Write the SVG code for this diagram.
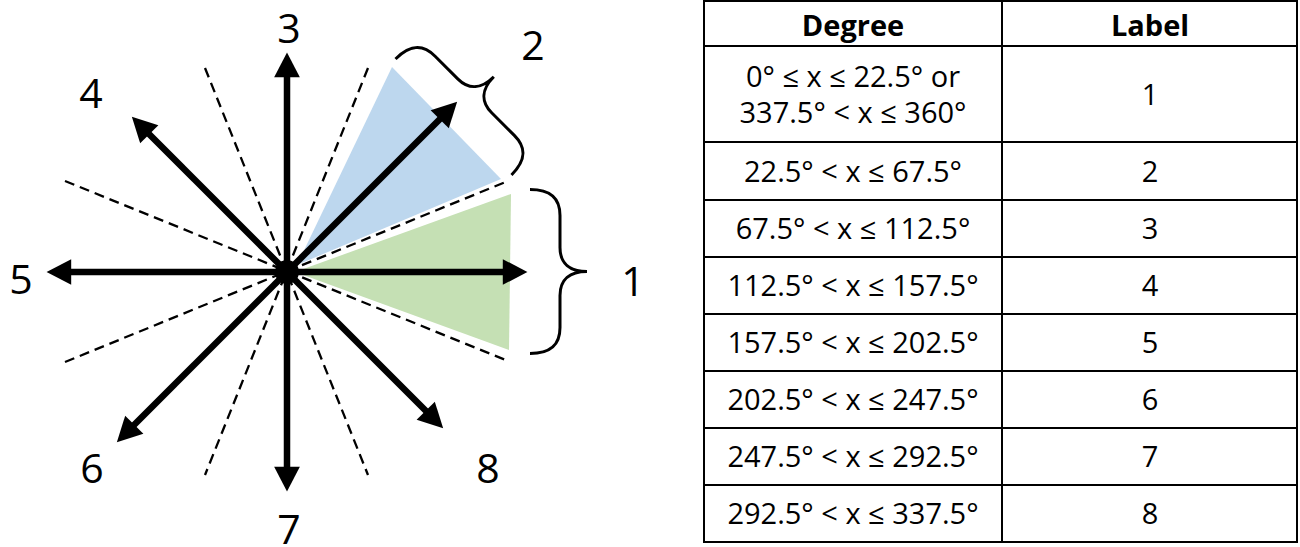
<svg xmlns="http://www.w3.org/2000/svg" width="1300" height="547" viewBox="0 0 1300 547">
<style>
.lbl{font-family:"Open Sans","Liberation Sans",sans-serif;font-size:41px;fill:#000;text-anchor:middle}
.cell{font-family:"Open Sans","Liberation Sans",sans-serif;font-size:29px;fill:#000;text-anchor:middle}
.hdr{font-family:"Open Sans","Liberation Sans",sans-serif;font-size:29px;font-weight:bold;fill:#000;text-anchor:middle}
.arrow{stroke:#000;stroke-width:6.5;fill:none;marker-end:url(#ah)}
.dash{stroke:#000;stroke-width:2.3;stroke-dasharray:10 6;fill:none}
.brace{stroke:#000;stroke-width:3;fill:none}
.grid{stroke:#000;stroke-width:2;fill:none}
</style>
<defs>
<marker id="ah" markerUnits="userSpaceOnUse" markerWidth="30" markerHeight="30" viewBox="-4 -13 28 26" refX="0" refY="0" orient="auto">
<path d="M-3,-12 L20,0 L-3,12 Z" fill="#000"/>
</marker>
<path id="bracePath" d="M0,-82 C20,-82 30,-74 30,-56 L30,-24 C30,-8 40,0 57,0 C40,0 30,8 30,24 L30,56 C30,74 20,82 0,82"/>
</defs>
<rect width="1300" height="547" fill="#fff"/>

<g id="sectors">
<polygon points="297,265 392,67 501,179" fill="#BDD7EE"/>
<polygon points="295,272 511,194 509,350" fill="#C5E0B4"/>
</g>

<g id="connectors">
<line class="dash" x1="205" y1="68" x2="368" y2="475"/>
<line class="dash" x1="368" y1="68" x2="205" y2="475"/>
<line class="dash" x1="65" y1="181" x2="508" y2="361"/>
<line class="dash" x1="65" y1="362" x2="508" y2="181"/>
<line class="arrow" x1="287" y1="272" x2="506" y2="272"/>
<line class="arrow" x1="287" y1="272" x2="68" y2="272"/>
<line class="arrow" x1="287" y1="272" x2="287" y2="74"/>
<line class="arrow" x1="287" y1="272" x2="287" y2="470"/>
<line class="arrow" x1="287" y1="272" x2="147" y2="132"/>
<line class="arrow" x1="287" y1="272" x2="442" y2="117"/>
<line class="arrow" x1="287" y1="272" x2="132" y2="427"/>
<line class="arrow" x1="287" y1="272" x2="428" y2="413"/>
<circle cx="287" cy="272" r="12" fill="#000"/>
</g>

<g id="brace1"><use href="#bracePath" class="brace" transform="translate(530,271.5)"/></g>
<g id="brace2"><use href="#bracePath" class="brace" transform="translate(453.5,117) rotate(-45)"/></g>

<g id="labels">
<text class="lbl" x="633" y="296">1</text>
<text class="lbl" x="533" y="60">2</text>
<text class="lbl" x="289" y="43">3</text>
<text class="lbl" x="91" y="108">4</text>
<text class="lbl" x="21" y="294">5</text>
<text class="lbl" x="92" y="483">6</text>
<text class="lbl" x="289" y="544">7</text>
<text class="lbl" x="488" y="483">8</text>
</g>

<g id="table">
<rect class="grid" x="704" y="1" width="593" height="541"/>
<line class="grid" x1="1002" y1="1" x2="1002" y2="542"/>
<line class="grid" x1="704" y1="46" x2="1297" y2="46"/>
<line class="grid" x1="704" y1="142" x2="1297" y2="142"/>
<line class="grid" x1="704" y1="200" x2="1297" y2="200"/>
<line class="grid" x1="704" y1="257" x2="1297" y2="257"/>
<line class="grid" x1="704" y1="314" x2="1297" y2="314"/>
<line class="grid" x1="704" y1="371" x2="1297" y2="371"/>
<line class="grid" x1="704" y1="428" x2="1297" y2="428"/>
<line class="grid" x1="704" y1="485" x2="1297" y2="485"/>
<text class="hdr" x="853" y="36">Degree</text>
<text class="hdr" x="1150" y="36">Label</text>
<text class="cell" x="853" y="87">0° ≤ x ≤ 22.5° or</text>
<text class="cell" x="853" y="123">337.5° &lt; x ≤ 360°</text>
<text class="cell" x="1150" y="105">1</text>
<text class="cell" x="853" y="182">22.5° &lt; x ≤ 67.5°</text>
<text class="cell" x="1150" y="182">2</text>
<text class="cell" x="853" y="239">67.5° &lt; x ≤ 112.5°</text>
<text class="cell" x="1150" y="239">3</text>
<text class="cell" x="853" y="296">112.5° &lt; x ≤ 157.5°</text>
<text class="cell" x="1150" y="296">4</text>
<text class="cell" x="853" y="353">157.5° &lt; x ≤ 202.5°</text>
<text class="cell" x="1150" y="353">5</text>
<text class="cell" x="853" y="410">202.5° &lt; x ≤ 247.5°</text>
<text class="cell" x="1150" y="410">6</text>
<text class="cell" x="853" y="467">247.5° &lt; x ≤ 292.5°</text>
<text class="cell" x="1150" y="467">7</text>
<text class="cell" x="853" y="524">292.5° &lt; x ≤ 337.5°</text>
<text class="cell" x="1150" y="524">8</text>
</g>
</svg>
